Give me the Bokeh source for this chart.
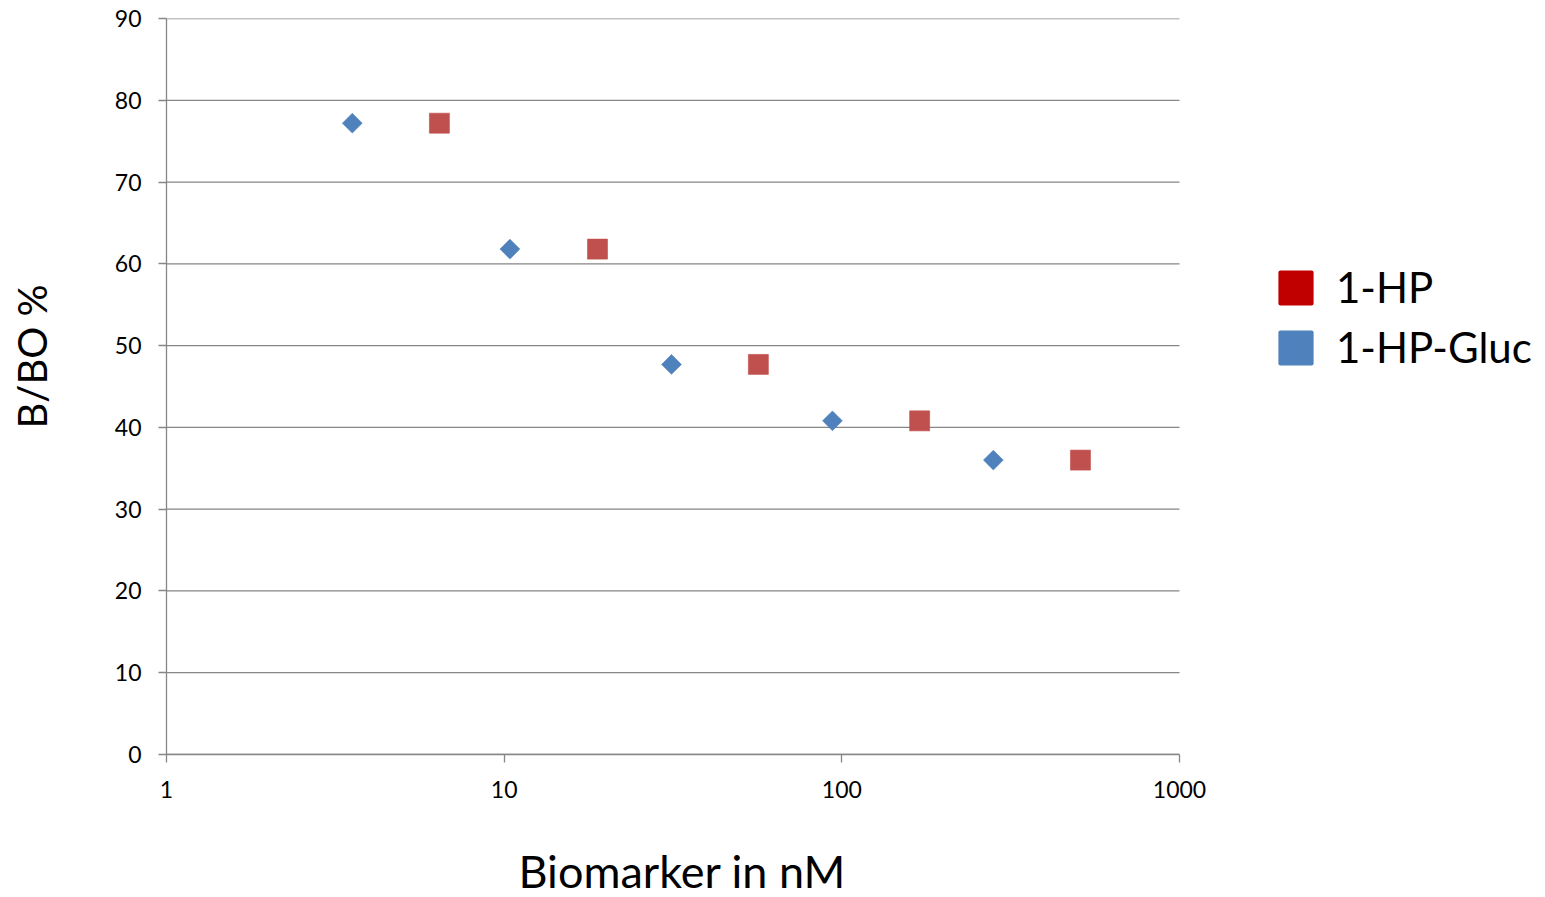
import numpy as np
from bokeh.plotting import figure
from bokeh.models import Legend, LegendItem, FixedTicker, Range1d, Title, LinearAxis
from bokeh.embed import file_html
from bokeh.resources import INLINE

# Data
hp_x = [6.43, 18.9, 56.6, 170, 509]
hp_y = [77.2, 61.8, 47.7, 40.8, 36.0]
gluc_x = [3.55, 10.4, 31.3, 93.8, 281]
gluc_y = [77.2, 61.8, 47.7, 40.8, 36.0]
series_names = ["1-HP", "1-HP-Gluc"]
x_ticks = [1, 10, 100, 1000]
y_ticks = [0, 10, 20, 30, 40, 50, 60, 70, 80, 90]
x_title = "Biomarker in nM"
y_title = "B/BO %"

FONT = "Lato"
GRID = "#868686"

W, H = 1537, 895
LEFT, RIGHT, TOP, BOTTOM = 166, 0, 18, 141
AXIS_PX = 1013          # pixel length of the 1..1000 decades
frame_w = W - LEFT - RIGHT
x_end = 10 ** (np.log10(x_ticks[-1]) * frame_w / AXIS_PX)

p = figure(width=W, height=H, x_axis_type="log",
           x_range=Range1d(x_ticks[0], x_end), y_range=Range1d(y_ticks[0], y_ticks[-1]),
           output_backend="svg", toolbar_location=None,
           min_border_left=LEFT, min_border_right=RIGHT,
           min_border_top=TOP, min_border_bottom=BOTTOM)
p.outline_line_color = None
p.background_fill_color = "white"

p.xaxis.ticker = FixedTicker(ticks=x_ticks, minor_ticks=[])
p.yaxis.ticker = FixedTicker(ticks=y_ticks, minor_ticks=[])
p.xaxis.major_label_overrides = {t: str(t) for t in x_ticks}
p.xaxis.bounds = (x_ticks[0], x_ticks[-1])

for ax in (p.xaxis[0], p.yaxis[0]):
    ax.axis_line_color = GRID
    ax.axis_line_width = 1.3
    ax.major_tick_line_color = GRID
    ax.major_tick_line_width = 1.3
    ax.major_tick_in = 0
    ax.major_tick_out = 8
    ax.minor_tick_line_color = None
    ax.major_label_text_font = FONT
    ax.major_label_text_font_size = "23px"
    ax.major_label_text_color = "black"
p.xaxis.major_label_standoff = 18
p.yaxis.major_label_standoff = 17


def spacer(tick, size):
    """Invisible axis used only to reserve room between an axis and its title."""
    return LinearAxis(ticker=FixedTicker(ticks=[tick], minor_ticks=[]),
                      major_label_overrides={tick: ""},
                      major_label_text_font_size="1px", major_label_standoff=0,
                      axis_line_color=None, major_tick_line_color=None,
                      minor_tick_line_color=None, major_tick_in=0,
                      major_tick_out=size, minor_tick_in=0, minor_tick_out=0)


p.add_layout(spacer(x_ticks[0], 46), "below")
p.add_layout(spacer(y_ticks[0], 56), "left")

# axis titles (positioned like the original, not centred on the frame)
xt = Title(text=x_title, align="left", offset=352, standoff=-10,
           text_font=FONT, text_font_size="45px", text_font_style="normal",
           text_color="black")
p.add_layout(xt, "below")
yt = Title(text=y_title, align="left", offset=326, standoff=0,
           text_font=FONT, text_font_size="40px", text_font_style="normal",
           text_color="black")
p.add_layout(yt, "left")

p.xgrid.grid_line_color = None
p.ygrid.grid_line_color = None
# horizontal gridlines only across the 1..1000 span
p.segment(x0=[x_ticks[0]] * len(y_ticks), x1=[x_ticks[-1]] * len(y_ticks),
          y0=y_ticks, y1=y_ticks, line_color=GRID, line_width=1.3)

# legend swatches (zero-area quads hidden under the markers)
r1 = p.quad(left=hp_x, right=hp_x, top=hp_y, bottom=hp_y, fill_color="#C00000",
            line_color="#C00000", line_width=4, line_join="round")
r2 = p.quad(left=gluc_x, right=gluc_x, top=gluc_y, bottom=gluc_y, fill_color="#4F81BD",
            line_color="#4F81BD", line_width=4, line_join="round")

p.scatter(hp_x, hp_y, marker="square", size=20, fill_color="#C0504D",
          line_color="#C0504D", line_alpha=0.6)
p.scatter(gluc_x, gluc_y, marker="square", angle=np.pi / 4, size=14,
          fill_color="#4F81BD", line_color="#4F81BD", line_alpha=0.6)

legend = Legend(items=[LegendItem(label=series_names[0], renderers=[r1]),
                       LegendItem(label=series_names[1], renderers=[r2])],
                location=(1110, 382), border_line_color=None,
                background_fill_alpha=0,
                glyph_width=39, glyph_height=39, label_standoff=21,
                spacing=10, padding=0, margin=0,
                label_text_font=FONT, label_text_font_size="42px",
                label_text_color="black")
p.add_layout(legend, "center")

open("out.html", "w").write(file_html(p, INLINE))
